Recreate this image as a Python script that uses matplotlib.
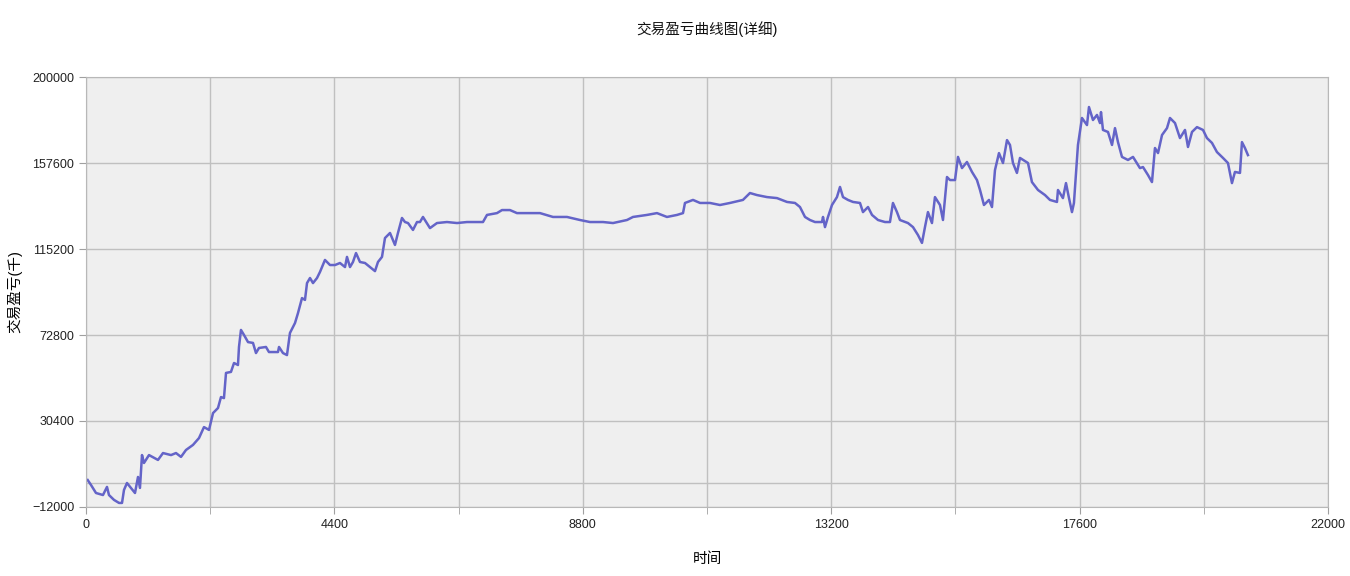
import matplotlib.pyplot as plt
from matplotlib.ticker import MultipleLocator, FixedLocator

plt.rcParams['font.family'] = ['Liberation Sans', 'Noto Sans CJK SC', 'DejaVu Sans']

# 时间轴与盈亏
t = [30, 89, 177, 301, 372, 407, 496, 585, 638, 673, 726, 797, 868, 921, 956,
     992, 1027, 1116, 1275, 1364, 1506, 1594, 1683, 1771, 1895, 2002, 2090, 2179,
     2250, 2338, 2391, 2444, 2480, 2568, 2622, 2692, 2710, 2745, 2799, 2870, 2958,
     3011, 3064, 3188, 3241, 3401, 3419, 3489,
     3560, 3613, 3702, 3755, 3826, 3879, 3915, 3968, 4021, 4092, 4145, 4233, 4322,
     4411, 4499, 4588, 4623, 4676, 4729, 4783, 4853, 4942, 5030, 5119, 5172, 5243,
     5296, 5385, 5473, 5526, 5597, 5650, 5704, 5792, 5863, 5916,
     5969, 6093, 6217, 6394, 6572, 6749, 6890, 7032, 7103, 7280, 7369, 7510, 7634,
     7811, 8042, 8272, 8520, 8750, 8927, 9158, 9335, 9583, 9689, 9937, 10114,
     10291, 10469, 10575, 10610, 10752, 10877, 11053,
     11230, 11407, 11637, 11761, 11885, 12063, 12240, 12417, 12559, 12647, 12736,
     12824, 12913, 13037, 13055, 13090, 13143, 13214, 13302, 13356, 13409, 13497,
     13586, 13710, 13763, 13852, 13923, 14029, 14153, 14241, 14294, 14365, 14418,
     14560, 14649, 14737, 14808, 14861, 14914, 14985, 15038, 15127, 15180,
     15251, 15304, 15393, 15446, 15517, 15605, 15694, 15782, 15836, 15906, 15995,
     16048, 16101, 16172, 16243, 16314, 16367, 16420, 16490, 16544, 16686, 16756,
     16863, 16987, 17075, 17199, 17217, 17305, 17359, 17412, 17465, 17500,
     17571, 17642, 17731, 17766, 17837, 17908, 17961, 17979, 18014, 18103, 18174,
     18227, 18280, 18351, 18457, 18546, 18669, 18723, 18811, 18882, 18935, 18989,
     19060, 19148, 19201, 19290, 19378, 19467, 19520, 19591, 19679, 19786, 19856,
     19945, 20033, 20140, 20228, 20299, 20352, 20441, 20476, 20529, 20582]

pnl = [1300, -1150, -5100, -6100, -2100, -6100, -8500, -10000, -10000, -3600, -170,
       -2600, -5100, 2800, -2600, 13600, 9700, 13600, 11200, 14600, 13600, 14600,
       12700, 16100, 18600, 22000, 27400, 26000, 34300, 36800, 42200, 41700, 54100,
       54600, 59000, 58000, 66900, 75300, 72800, 69300, 68900, 63900, 66400, 66900,
       64400, 64400, 66900, 63900,
       62900, 73800, 78700, 83600, 91000, 90100, 98400, 100900, 98400, 100900,
       103900, 109800, 107300, 107300, 108300, 106300, 111300, 106300, 108800,
       113200, 108800, 108300, 106300, 104300, 108800, 111300, 120600, 123100,
       117200, 123100, 130500, 128500, 128000, 124600, 128500, 128500,
       131000, 125500, 128000, 128500, 128000, 128500, 128500, 128500, 132000,
       132900, 134400, 134400, 132900, 132900, 132900, 131000, 131000, 129500,
       128500, 128500, 128000, 129500, 131000, 132000, 132900, 131000, 132000,
       132900, 137900, 139400, 137900, 137900,
       136900, 137900, 139400, 142800, 141800, 140800, 140300, 138400, 137900,
       135900, 131000, 129500, 128500, 128500, 131000, 126000, 131000, 136900,
       140800, 145800, 140800, 139400, 138400, 137900, 133400, 135900, 132000,
       129500, 128500, 128500, 137900, 133400, 129500, 128000, 126000, 122100,
       118200, 126000, 133400, 128000, 140800, 136900, 129500,
       150700, 149200, 149200, 160600, 155100, 158100, 153200, 149200, 144300,
       136900, 139400, 135900, 154100, 162500, 157600, 168900, 166500, 157600,
       152700, 160100, 157600, 148200, 144300, 141800, 139400, 138400, 144300,
       140300, 147700, 140300, 133400, 137900,
       166500, 179800, 176300, 185200, 178800, 181300, 177300, 182700, 173900,
       172900, 166500, 174800, 167900, 160600, 159100, 160600, 155100, 155600,
       151700, 148200, 165000, 162500, 171400, 174800, 179800, 177300, 169900,
       173900, 165500, 172900, 175300, 173900, 169900, 167500, 163000, 160100,
       157600, 147700, 153200, 152700, 167900, 165000, 161500]

fig = plt.figure(figsize=(13.5, 5.76), dpi=100)
ax = fig.add_axes([0.0637, 0.1198, 0.92, 0.7465])
ax.set_facecolor('#efefef')

ax.plot(t, pnl, color='#6464c8', linewidth=1.8)

ax.set_xlim(0, 22000)
ax.set_ylim(-12000, 200000)
ax.xaxis.set_major_locator(MultipleLocator(4400))
ax.xaxis.set_minor_locator(MultipleLocator(2200))
ax.yaxis.set_major_locator(FixedLocator([-12000, 30400, 72800, 115200, 157600, 200000]))
ax.yaxis.set_minor_locator(FixedLocator([0]))
ax.grid(True, which='both', color='#c0c0c0', linewidth=1)
ax.set_axisbelow(True)

for s in ax.spines.values():
    s.set_color('#b8b8b8')
ax.tick_params(which='both', colors='#a0a0a0', labelcolor='#222222', labelsize=9,
               length=5, direction='out')
ax.tick_params(axis='y', which='minor', length=0)

ax.set_title('交易盈亏曲线图(详细)', fontsize=10.5, pad=31, color='#111111')
ax.set_xlabel('时间', fontsize=10.5, labelpad=15)
ax.set_ylabel('交易盈亏(千)', fontsize=10.5, labelpad=7)

fig.savefig('out.png')
